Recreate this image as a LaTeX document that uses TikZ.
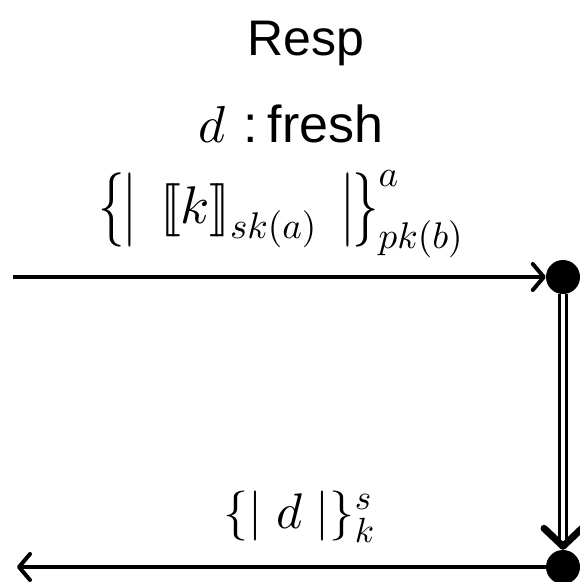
\documentclass[tikz,border=0pt]{standalone}
\usepackage{amsmath}
\usepackage{fontspec}
\setmainfont{Liberation Sans}
\DeclareFontShape{OML}{cmm}{m}{it}{<->cmmi10}{\skewchar\font'177}
\DeclareFontShape{OMS}{cmsy}{m}{n}{<->cmsy10}{\skewchar\font'60}
\DeclareFontShape{OMX}{cmex}{m}{n}{<->cmex10}{}
\DeclareFontShape{OT1}{cmr}{m}{n}{<->cmr10}{}
\usetikzlibrary{arrows.meta}
\newcommand{\lsem}{\mathopen{[\mkern-3.2mu[}}
\newcommand{\rsem}{\mathclose{]\mkern-3.2mu]}}
\newcommand{\tallsym}[1]{\vcenter{\hbox{\scalebox{1}[1.4]{$#1$}}}}
\tikzset{
  dot/.style={circle, fill=black, minimum size=34pt, inner sep=0pt},
  msg/.style={line width=4pt, -{Straight Barb[length=11pt,width=26pt,round]}},
  strand/.style={double, double distance=4pt, line width=3pt,
    -{Straight Barb[length=18pt,width=38pt,round,line width=7pt]}},
  lbl/.style={font=\fontsize{50}{60}\selectfont, inner sep=0pt},
  biglbl/.style={font=\fontsize{52}{62}\selectfont, inner sep=0pt},
  mathlbl/.style={font=\fontsize{53}{64}\selectfont, inner sep=0pt},
}
\begin{document}
\begin{tikzpicture}[x=1pt,y=-1pt]
\useasboundingbox (0,0) rectangle (580,582);
\node[lbl, anchor=base] (resp) at (306,55) {Resp};
\node[biglbl, anchor=base] (fresh) at (291,142) {$d$\hspace{18pt}:\hspace{10pt}fresh};
\node[mathlbl, anchor=base] (m1) at (281,223) {$\mathopen{\tallsym{\{}\mkern-1mu\tallsym{|}}\;\,\lsem k\rsem_{sk(a)}\;\,\mathclose{\tallsym{|}\mkern-1mu\tallsym{\}}}^{a}_{pk(b)}$};
\node[lbl, anchor=base] (m2) at (299,528) {$\{|\;d\;|\}^{s}_{k}$};
\node[dot] (p1) at (563,277) {};
\node[dot] (p2) at (563,567) {};
\coordinate (in) at (13,277);
\coordinate (out) at (17,567);
\draw[msg] (in) -- (p1);
\draw[strand] (p1) -- (p2);
\draw[msg] (p2) -- (out);
\end{tikzpicture}
\end{document}
